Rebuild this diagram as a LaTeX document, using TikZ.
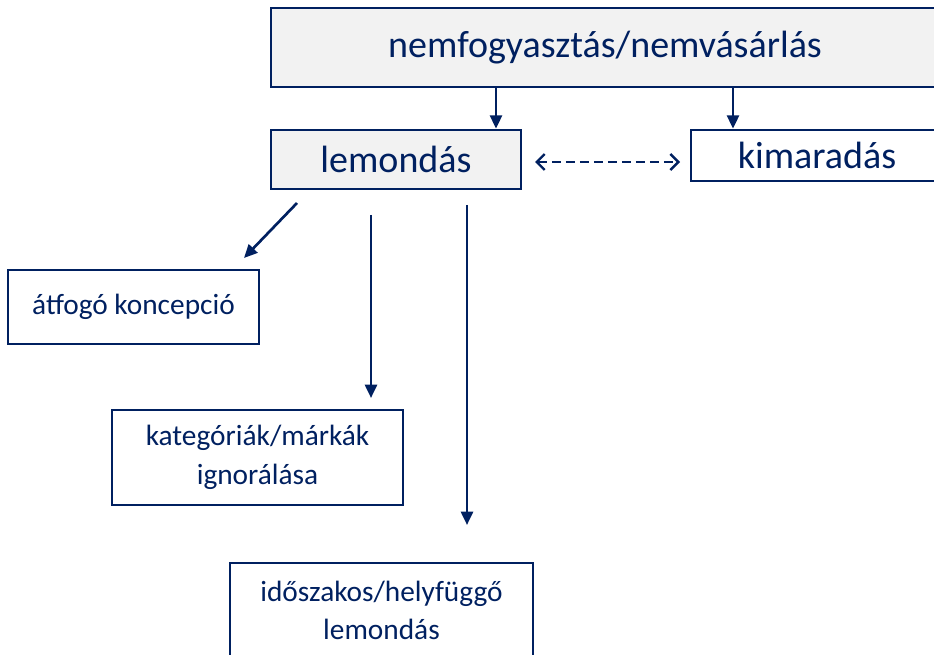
\documentclass[tikz,border=0pt]{standalone}
\usepackage{fontspec}
\setmainfont{Carlito}
\usetikzlibrary{arrows.meta}
\definecolor{navy}{RGB}{0,32,96}
\definecolor{boxgray}{RGB}{242,242,242}
\begin{document}
\begin{tikzpicture}[x=0.75pt,y=-0.75pt,
    box/.style={draw=navy,line width=2pt,text=navy,inner sep=0pt,align=center},
    big/.style={font=\fontsize{28.5}{34}\selectfont},
    small/.style={font=\fontsize{22}{29}\selectfont},
    arr/.style={navy,line width=2pt,-{Triangle[length=10pt,width=9pt]}},
    dasharr/.style={navy,line width=1.8pt,dash pattern=on 6.5pt off 4pt,
        {Straight Barb[length=6pt,width=12pt]}-{Straight Barb[length=6pt,width=12pt]}}]
    \useasboundingbox (0,0) rectangle (934,655);
    \clip (0,0) rectangle (934,655);

    \node[box,big,fill=boxgray,minimum width=501pt,minimum height=59.25pt] (top) at (605,47.5) {nemfogyasztás/nemvásárlás};
    \node[box,big,fill=boxgray,minimum width=187.5pt,minimum height=44.25pt] (lem) at (396,159.5) {lemondás};
    \node[box,big,minimum width=189pt,minimum height=38.25pt] (kim) at (817,155.5) {kimaradás};
    \node[box,small,minimum width=188.25pt,minimum height=55.5pt] (atf) at (133.5,307) {átfogó koncepció};
    \node[box,small,minimum width=218.25pt,minimum height=71.25pt] (kat) at (257.5,457.5) {kategóriák/márkák\\ignorálása};
    \node[box,small,minimum width=227.25pt,minimum height=71.25pt] (ido) at (381.5,610.5) {időszakos/helyfüggő\\lemondás};

    % free ends
    \coordinate (c1) at (496,0);
    \coordinate (c2) at (733,0);
    \coordinate (d1) at (535,162);
    \coordinate (d2) at (680,162);
    \coordinate (s1) at (297,203);
    \coordinate (e1) at (244,258);
    \coordinate (s2) at (371,215);
    \coordinate (e2) at (371,398);
    \coordinate (s3) at (467,205);
    \coordinate (e3) at (467,525);

    \draw[arr] (top.south -| c1) -- (lem.north -| c1);
    \draw[arr] (top.south -| c2) -- (kim.north -| c2);
    \draw[dasharr] (d1) -- (d2);
    \draw[arr] (s1) -- (e1);
    \draw[arr] (s2) -- (e2);
    \draw[arr] (s3) -- (e3);
\end{tikzpicture}
\end{document}
